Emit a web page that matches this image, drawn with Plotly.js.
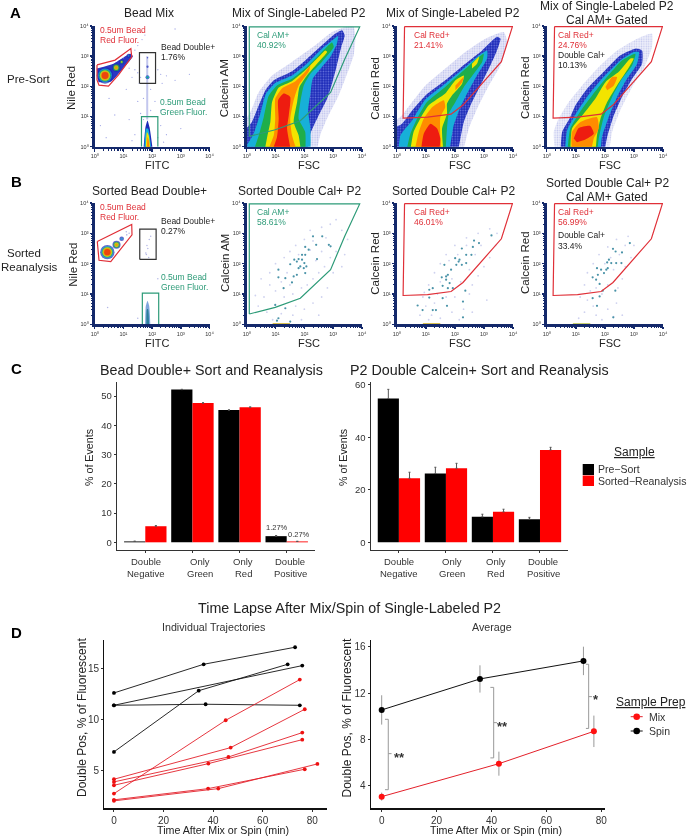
<!DOCTYPE html>
<html><head><meta charset="utf-8">
<style>html,body{margin:0;padding:0;background:#fff}#p{width:688px;height:837px;filter:blur(0.35px)}</style>
<script src="https://cdn.plot.ly/plotly-3.0.1.min.js"></script></head><body><div id="p"></div>
<script>
// ---------- flow-cytometry gates, in decades of fluorescence ----------
const gateBeadRedA=[[.08,2.71],[.71,2.87],[1.26,3.25],[1.29,2.98],[.83,2.38],[.48,2.01],[.15,2.04],[.08,2.21],[.08,2.71]];
const gateBeadRedB=[[.09,2.73],[1.29,3.29],[1.30,2.95],[.88,2.46],[.56,2.07],[.15,2.11],[.09,2.73]];
const gateDoubleA=[[1.56,2.10],[2.12,2.10],[2.12,3.12],[1.56,3.12],[1.56,2.10]];
const gateDoubleB=[[1.57,2.14],[2.14,2.14],[2.14,3.14],[1.57,3.14],[1.57,2.14]];
const gateGreenA=[[1.63,0],[1.63,1.0],[2.2,1.0],[2.2,0]];
const gateGreenB=[[1.66,0],[1.66,1.03],[2.23,1.03],[2.23,0]];
const gateCalAM=[[.09,.34],[.09,3.97],[3.92,3.97],[3.40,2.90],[2.91,1.80],[1.86,.86],[.99,.56],[.09,.34]];
const gateCalRed=[[.27,3.98],[3.98,3.98],[3.60,2.82],[3.05,2.21],[2.28,1.38],[1.87,1.08],[1.06,.98],[.22,.95],[.27,3.98]];
// ---------- density outlines ----------
const a2Haze=[[0,0],[0,.49],[.13,1.15],[.42,1.81],[.88,2.36],[1.57,2.81],[2.38,3.36],[2.96,3.80],[3.42,3.97],[3.71,3.97],[3.77,3.58],[3.71,3.03],[3.42,2.25],[3.19,1.70],[2.84,1.04],[2.55,.38],[2.40,0]];
const a2Blue=[[0,0],[0,.27],[.18,.82],[.42,1.37],[.65,1.87],[.94,2.20],[1.57,2.50],[2.03,2.86],[2.61,3.36],[3.08,3.75],[3.31,3.86],[3.40,3.69],[3.28,3.30],[3.13,2.70],[2.96,2.09],[2.79,1.59],[2.50,1.04],[2.21,.43],[2.09,0]];
const a2Cyan=[[.02,.07],[.24,.43],[.47,1.09],[.67,1.76],[.99,2.11],[1.57,2.36],[2.09,2.75],[2.61,3.25],[2.96,3.52],[3.17,3.67],[3.13,3.41],[2.90,2.97],[2.61,2.64],[2.29,2.25],[2.21,1.76],[2.13,1.20],[2.21,.60],[2.15,0],[.02,0]];
const a2Green=[[.18,0],[.42,.38],[.59,.98],[.76,1.68],[1.05,2.03],[1.57,2.25],[2.09,2.64],[2.61,3.14],[2.96,3.45],[3.02,3.30],[2.61,2.81],[2.21,2.42],[1.98,2.03],[1.86,1.48],[1.80,.93],[2.03,.49],[2.03,0]];
const a2Yellow=[[.59,0],[.71,.32],[.82,.82],[.88,1.48],[1.11,1.96],[1.57,2.17],[2.03,2.53],[2.44,2.92],[2.73,3.19],[2.79,3.14],[2.44,2.75],[2.09,2.36],[1.83,1.98],[1.75,1.48],[1.63,.82],[1.80,.38],[1.90,0]];
const a2Orange=[[.65,0],[.94,.38],[.99,.93],[.99,1.59],[1.23,1.94],[1.69,2.17],[2.03,2.48],[2.21,2.70],[2.15,2.48],[1.80,2.03],[1.63,1.54],[1.51,.93],[1.57,.38],[1.80,0]];
const a2Red=[[.82,0],[1.05,.32],[1.11,.93],[1.09,1.54],[1.28,1.76],[1.51,1.65],[1.46,1.04],[1.40,.60],[1.57,0]];
const a3Haze=[[0,0],[0,.6],[.18,1.04],[.53,1.48],[.99,2.03],[1.67,2.59],[2.36,3.14],[3.05,3.58],[3.68,3.80],[3.80,3.47],[3.57,2.70],[3.17,2.03],[2.82,1.37],[2.48,.60],[2.25,0]];
const a3Blue=[[0,0],[0,.49],[.18,.76],[.53,1.20],[.99,1.70],[1.67,2.20],[2.36,2.75],[2.94,3.19],[3.45,3.64],[3.57,3.58],[3.45,3.19],[3.17,2.59],[2.88,2.03],[2.59,1.48],[2.31,.82],[2.08,0]];
const a3Cyan=[[.05,0],[.13,.38],[.53,.87],[.99,1.57],[1.67,2.09],[2.36,2.64],[2.88,3.06],[3.11,3.19],[3.11,2.92],[2.76,2.36],[2.48,1.87],[2.19,1.31],[1.96,.71],[1.79,0]];
const a3Green=[[.30,0],[.47,.43],[.70,.93],[1.04,1.48],[1.67,1.98],[2.31,2.53],[2.82,2.97],[2.99,3.08],[2.94,2.81],[2.65,2.42],[2.31,1.98],[2.02,1.48],[1.79,1.09],[1.73,.60],[1.67,0]];
const a3Yellow=[[.44,0],[.58,.49],[.81,.93],[1.10,1.37],[1.67,1.76],[2.02,2.20],[2.31,2.36],[2.25,2.09],[1.90,1.70],[1.73,1.43],[1.73,1.09],[1.56,.60],[1.62,0]];
const a3YellowArm=[[2.59,2.75],[2.84,2.99],[2.76,2.75],[2.59,2.59]];
const a3Orange=[[.58,0],[.76,.49],[.93,.93],[1.22,1.31],[1.62,1.54],[1.67,1.31],[1.50,.98],[1.50,.38],[1.54,0]];
const a3OrangeArm=[[2.02,2.03],[2.31,2.31],[2.25,2.14],[2.02,1.87]];
const a3Red=[[.81,0],[.93,.43],[1.16,.76],[1.39,.60],[1.50,.27],[1.44,0]];
const a4Haze=[[.30,0],[.24,.49],[.41,.93],[.76,1.48],[1.22,2.03],[1.79,2.64],[2.42,3.19],[3.11,3.58],[3.62,3.75],[3.62,3.30],[3.34,2.59],[2.94,1.98],[2.53,1.20],[2.25,.49],[2.13,0]];
const a4Blue=[[.47,0],[.53,.49],[.81,.98],[.99,1.37],[1.39,1.92],[1.96,2.48],[2.53,3.03],[3.05,3.25],[3.28,3.19],[3.28,2.75],[2.94,2.25],[2.59,1.65],[2.31,1.04],[2.08,.32],[1.96,0]];
const a4Cyan=[[.62,0],[.70,.54],[1.04,1.15],[1.39,1.65],[1.90,2.25],[2.53,2.86],[2.99,3.14],[3.17,3.14],[3.11,2.75],[2.76,2.25],[2.42,1.65],[2.13,.98],[1.90,.32],[1.85,0]];
const a4Green=[[.70,0],[.81,.60],[1.22,1.26],[1.56,1.70],[2.02,2.25],[2.59,2.86],[3.05,3.08],[2.94,2.70],[2.59,2.25],[2.25,1.65],[1.96,.98],[1.79,.27],[1.73,0]];
const a4Yellow=[[.81,0],[.87,.60],[1.27,1.09],[1.67,1.59],[2.02,2.14],[2.48,2.48],[2.88,2.92],[2.99,2.92],[2.76,2.53],[2.42,2.03],[2.08,1.48],[1.85,.93],[1.73,.38],[1.67,0]];
const a4Orange=[[.87,0],[.87,.49],[1.16,.82],[1.73,.98],[1.79,.60],[1.62,.27],[1.50,0]];
const a4OrangeArm=[[2.02,1.98],[2.25,2.31],[2.42,2.31],[2.31,2.03],[2.08,1.87]];
const a4Red=[[.93,.27],[1.10,.62],[1.50,.69],[1.62,.43],[1.33,.24],[1.04,.15]];
const a1Tail=[[.07,2.59],[.65,2.75],[1.24,3.08],[1.33,3.0],[.89,2.48],[.59,2.17],[.13,2.14]];
const a1ColBlue=[[1.68,0],[1.77,.65],[1.84,.87],[1.91,.65],[2.05,0]];
const a1ColCyan=[[1.72,0],[1.79,.6],[1.86,.6],[2.0,0]];
const a1ColYellow=[[1.77,0],[1.82,.49],[1.88,.38],[1.96,0]];
const a1ColOrange=[[1.82,0],[1.84,.32],[1.88,.21],[1.92,0]];
const a1Streak=[[1.83,.9],[1.84,2.0],[1.83,3.0]];
const b1ColBlue=[[1.75,0],[1.78,.6],[1.84,.78],[1.90,.6],[1.95,0]];
const b1ColGreen=[[1.8,0],[1.82,.5],[1.86,.5],[1.9,0]];
// bead populations: centre x, centre y, radius (decades), density level
const a1Blobs=[[.36,2.36,.29,0],[.36,2.36,.24,1],[.36,2.36,.21,2],[.36,2.36,.18,3],[.36,2.36,.15,4],[.36,2.36,.12,5],
 [.75,2.62,.15,0],[.75,2.62,.12,2],[.75,2.62,.08,3],[.75,2.62,.05,4],[.94,2.81,.09,0],[.94,2.81,.06,2],[.94,2.81,.03,3],[1.18,3.01,.07,0],[1.18,3.01,.03,1],
 [1.84,2.3,.07,0],[1.84,2.3,.05,1],[1.84,2.3,.03,2],[1.84,2.65,.04,0],[1.84,2.95,.025,0]];
const b1Blobs=[[.44,2.38,.25,0],[.44,2.38,.21,1],[.44,2.38,.19,2],[.44,2.38,.17,3],[.44,2.38,.14,4],[.44,2.38,.11,5],
 [.76,2.62,.14,0],[.76,2.62,.11,2],[.76,2.62,.08,3],[.76,2.62,.05,4],[.94,2.82,.08,0],[.94,2.82,.04,1],[1.12,2.95,.02,0]];
const a1Specks=[[1.0,2.95],[1.5,3.35],[1.65,3.55],[1.4,3.2],[1.75,3.7],[1.2,2.6],[1.4,2.55],[1.5,2.45],[1.6,2.3],[2.3,2.4],[2.5,2.35],[2.8,2.2],[2.2,2.55],[2.35,2.1],[1.3,2.3],[1.55,2.1],[1.1,1.9],[2.1,1.5],[2.3,1.2],[1.2,.9],[1.4,.4],[.4,.3],[.7,1.05],[2.3,.7],[2.5,.4],[3.0,.6],[3.1,1.1],[2.8,3.9],[2.2,.3],[1.5,1.5],[1.6,1.1],[1.3,.2],[2.4,.15],[.2,.7],[.5,1.6],[3.3,2.4],[2.0,1.0],[1.7,.9],[1.95,1.2],[1.7,1.6],[1.95,1.9]];
const b1Specks=[[1.8,2.3],[1.85,2.5],[1.9,2.8],[1.82,2.6],[1.95,2.9],[1.78,2.35],[1.88,2.2],[.45,.55],[2.2,1.5],[1.5,.2],[1.2,3.0],[1.1,3.05]];
const b2Points=[[2.30,2.90],[2.62,2.90],[2.41,2.62],[2.03,2.55],[2.15,2.46],[1.92,2.29],[2.03,2.29],[1.80,2.15],[1.74,2.07],[1.92,2.13],[2.00,2.02],[1.86,1.91],[1.98,1.85],[2.07,1.91],[2.44,2.15],[1.51,1.98],[1.10,1.80],[1.63,1.58],[1.74,1.63],[1.57,1.38],[1.34,1.52],[1.10,1.55],[.99,.64],[1.34,.53],[1.10,.2],[1.05,.12],[1.51,.09],[2.91,2.57],[2.03,1.69],[1.28,1.19],[2.85,2.62],[1.80,1.85],[1.65,2.13]];
const b3Points=[[3.26,2.93],[2.66,2.76],[2.83,2.68],[2.62,2.55],[2.24,2.50],[2.39,2.29],[2.57,2.29],[2.01,2.18],[2.13,2.07],[2.05,1.96],[1.64,1.96],[2.24,1.96],[2.39,2.02],[1.87,1.80],[1.76,1.63],[1.70,1.58],[1.55,1.55],[1.70,1.47],[1.82,1.36],[1.24,1.19],[1.12,1.14],[1.58,1.27],[1.93,1.19],[2.36,1.11],[1.12,.88],[1.58,.86],[.72,.62],[.89,.47],[1.35,.47],[1.24,.47],[1.73,.61],[2.28,.75],[2.28,.23],[1.76,1.19],[2.16,2.13]];
const b4Points=[[2.86,2.68],[2.59,2.37],[2.37,2.40],[2.28,2.49],[2.14,2.13],[2.22,2.02],[2.08,2.04],[1.73,1.85],[2.10,1.85],[2.39,2.02],[2.57,2.02],[1.97,1.69],[1.76,1.63],[1.58,1.55],[1.70,1.47],[1.82,1.33],[1.93,1.11],[1.58,.86],[1.82,.92],[1.73,.61],[2.36,1.11],[2.29,.23],[1.87,1.80],[2.05,1.80]];
const b2Pale=[[.5,1.5],[.8,1.7],[1.0,2.0],[1.3,2.2],[1.5,2.4],[1.7,2.6],[2.0,2.8],[2.2,3.1],[2.6,3.2],[2.9,3.3],[3.1,3.45],[3.3,3.1],[3.5,2.8],[3.4,2.3],[3.1,2.4],[2.9,2.2],[2.7,1.9],[2.5,1.7],[2.3,1.5],[2.1,1.3],[1.9,1.2],[1.6,1.0],[1.3,.9],[1.0,1.1],[.8,1.3],[.6,.9],[.4,.6],[.7,.4],[1.2,.35],[1.7,.6],[2.0,.5],[2.3,.7],[2.6,.9],[2.8,1.2],[1.4,1.7],[1.2,1.4],[2.4,2.1],[2.6,2.4],[1.6,.3],[.9,.15],[1.9,.15],[2.5,.3],[3.0,1.7],[3.3,1.9],[1.8,2.3],[2.2,2.45],[2.3,2.75],[1.5,1.3],[.3,.95],[2.75,2.85]];
const b3Pale=[[.9,.9],[1.1,1.3],[1.3,1.7],[1.5,2.0],[1.7,2.3],[2.0,2.6],[2.4,2.85],[2.8,3.0],[3.2,3.15],[3.4,2.6],[3.2,2.2],[3.0,1.9],[2.8,1.6],[2.6,1.3],[2.5,1.0],[2.3,.5],[1.9,.4],[1.5,.2],[1.1,.15],[.8,.3],[1.4,1.0],[1.7,.9],[2.0,.9],[2.2,1.4],[2.5,1.8],[2.7,2.3],[2.9,2.6],[1.9,1.5],[1.5,1.4],[1.3,.7],[2.6,.4],[3.1,.8],[1.0,.6],[2.1,2.3],[1.8,2.1],[2.4,2.6],[2.15,.15],[.95,1.05],[3.45,3.0],[1.2,.3]];
const b4Pale=[[1.15,.9],[1.3,1.3],[1.4,1.7],[1.6,2.0],[1.8,2.3],[2.1,2.55],[2.4,2.8],[2.8,2.9],[3.0,2.6],[2.9,2.2],[2.7,1.9],[2.6,1.5],[2.45,1.2],[2.4,.7],[2.1,.5],[1.7,.3],[1.3,.4],[1.5,1.1],[1.9,1.0],[2.1,1.3],[2.3,1.8],[2.5,2.3],[1.7,1.2],[1.4,.8],[2.6,.3],[1.1,.2],[1.9,.15],[2.2,2.2],[2.0,2.0],[1.6,.6],[2.3,.25],[2.7,2.6]];
const bottomStrip=[[.9,.02],[1.5,.02]];
// ---------- panel C ----------
const barCategoriesTop=["Double","Only","Only","Double"];
const barCategoriesBottom=["Negative","Green","Red","Positive"];
const beadPre=[0.3,52.2,45.2,2.1];
const beadSorted=[5.5,47.6,46.2,0.3];
const beadPreErr=[0.1,0.1,0.05,0.2];
const beadSortedErr=[0.2,0.1,0.05,0.05];
const p2Pre=[54.8,26.2,9.7,8.8];
const p2Sorted=[24.4,28.2,11.6,35.2];
const p2PreErr=[3.5,2.4,1.0,0.7];
const p2SortedErr=[2.3,1.9,1.0,1.0];
// ---------- panel D ----------
const spinTraj=[
 {t:[0,36.2,73.1],v:[12.58,15.39,17.06]},
 {t:[0,76],v:[11.37,15.26]},
 {t:[0,34.2,70.1],v:[6.8,12.8,15.39]},
 {t:[0,37,75],v:[11.37,11.47,11.37]}];
const mixTraj=[
 {t:[0,45.1,75],v:[2.71,9.9,13.89]},
 {t:[0,47.1,77],v:[4.12,7.22,10.98]},
 {t:[0,46.2,76],v:[3.86,6.3,8.69]},
 {t:[0,38.1,76],v:[3.53,5.65,8.0]},
 {t:[0,38,77],v:[2.1,3.2,5.1]},
 {t:[0,42.1,82.1],v:[2.0,3.2,5.62]}];
const spinAvgT=[0,35.8,73.5], spinAvg=[10.55,13.23,14.79], spinAvgErr=[1.27,1.18,1.23];
const mixAvgT=[0,42.7,77.3], mixAvg=[3.05,5.9,8.7], mixAvgErr=[0.35,1.04,1.36];
const brackets=[
 {x:[1.2,2.4,2.4,1.2],y:[9.74,9.74,3.65,3.65],mx:[2.4,3.6],my:[6.77,6.77]},
 {x:[39.6,40.8,40.8,39.6],y:[12.5,12.5,6.4,6.4],mx:[40.8,42],my:[9.45,9.45]},
 {x:[74.4,75.4,75.4,74.4],y:[14.5,14.5,8.95,8.95],mx:[75.4,76.6],my:[11.7,11.7]}];

// ---------- colours ----------
const LEVELS=['#1c2bb8','#17b0d8','#1fae4a','#f2e400','#ff8c00','#ee1c10'];
const NAVY='#14296b',RED='#e03038',GREEN='#2d9b78',INK='#333333';
const W=688,H=837;
let traces=[],annotations=[],shapes=[],layout={};
const dec=p=>Math.pow(10,p);
const decEdge=p=>p===0?Math.pow(10,-.3):Math.pow(10,p);   // outlines running off the axis continue past it

function axisPair(i,l,r,t,b,xo,yo){
  const s=i===1?'':i;
  layout['xaxis'+s]=Object.assign({domain:[l/W,r/W],anchor:'y'+s,showgrid:false,zeroline:false,fixedrange:true},xo);
  layout['yaxis'+s]=Object.assign({domain:[1-b/H,1-t/H],anchor:'x'+s,showgrid:false,zeroline:false,fixedrange:true},yo);
}
const logMinor=[];[1,10,100,1000].forEach(d=>{for(const k of [2,3,4,5,6,7,8,9])logMinor.push(k*d)});
const logAxis=()=>({type:'log',range:[0,4],tickmode:'array',tickvals:[1,10,100,1000,10000],
  ticktext:['10⁰','10¹','10²','10³','10⁴'],
  tickfont:{size:5.5,color:INK,family:'Liberation Sans'},ticks:'outside',ticklen:2.5,tickwidth:1.5,tickcolor:NAVY,
  showline:true,linecolor:NAVY,linewidth:2.5,
  minor:{tickmode:'array',tickvals:logMinor,ticks:'outside',ticklen:1.5,tickwidth:1,tickcolor:NAVY}});
function xy(i){const s=i===1?'':i;return {xaxis:'x'+s,yaxis:'y'+s,hoverinfo:'skip',showlegend:false};}
function poly(i,pts,color,pattern,psize){
  const t=Object.assign(xy(i),{type:'scatter',mode:'lines',x:pts.map(p=>decEdge(p[0])),y:pts.map(p=>decEdge(p[1])),
    fill:'toself',fillcolor:color,line:{width:0,color:color,shape:'spline',smoothing:.5}});
  if(pattern){t.fillcolor='rgba(0,0,0,0)';t.fillpattern={shape:'.',fgcolor:color,bgcolor:pattern,size:psize||3,solidity:.3,fillmode:'replace'};}
  traces.push(t);
}
function gate(i,pts,color,w){
  traces.push(Object.assign(xy(i),{type:'scatter',mode:'lines',x:pts.map(p=>dec(p[0])),y:pts.map(p=>dec(p[1])),line:{color:color,width:w||1.2}}));
}
function dots(i,pts,color,size){
  traces.push(Object.assign(xy(i),{type:'scatter',mode:'markers',x:pts.map(p=>dec(p[0])),y:pts.map(p=>dec(p[1])),marker:{color:color,size:size,line:{width:0}}}));
}
function blobs(i,list,pxPerDecade){
  traces.push(Object.assign(xy(i),{type:'scatter',mode:'markers',x:list.map(b=>dec(b[0])),y:list.map(b=>dec(b[1])),
    marker:{size:list.map(b=>b[2]*2*pxPerDecade),color:list.map(b=>LEVELS[b[3]]),line:{width:0}}}));
}
function txt(x,y,text,o){
  o=o||{};
  annotations.push({xref:'paper',yref:'paper',x:x/W,y:1-y/H,text:text,showarrow:false,xanchor:o.a||'center',yanchor:'middle',
    textangle:o.r||0,borderpad:0,font:{family:'Liberation Sans',size:o.s||12,color:o.c||'#222222',weight:o.b?700:400}});
}
function levels(i,arr){arr.forEach(a=>a[2]?poly(i,a[0],a[1],a[2],2.6):poly(i,a[0],a[1]));}
const BLUE_DOTS=['#6672dc',LEVELS[0]];

// ---------- flow panels ----------
const TOP_A=26,BOT_A=146.7,TOP_B=203,BOT_B=324.3;
const COLS=[[94.7,209.5],[246.7,362],[396.7,513],[546.7,663]];
[0,1].forEach(row=>COLS.forEach((c,j)=>{
  axisPair(row*4+j+1,c[0],c[1],row?TOP_B:TOP_A,row?BOT_B:BOT_A,logAxis(),logAxis());
}));
// A1
gate(1,a1Streak,'#c3c7ee',2);
poly(1,a1Tail,'#2a38c4');
dots(1,a1Specks,'#a3a9e6',1.3);
blobs(1,a1Blobs,28.7);
levels(1,[[a1ColBlue,LEVELS[0]],[a1ColCyan,LEVELS[1]],[a1ColYellow,LEVELS[3]],[a1ColOrange,LEVELS[4]]]);
gate(1,gateBeadRedA,RED);gate(1,gateDoubleA,'#333');gate(1,gateGreenA,GREEN);
// A2
poly(2,a2Haze,'#bcc0ec','#e9eaf9',2.4);
levels(2,[[a2Blue,BLUE_DOTS[0],BLUE_DOTS[1]],[a2Cyan,LEVELS[1]],[a2Green,LEVELS[2]],[a2Yellow,LEVELS[3]],[a2Orange,LEVELS[4]],[a2Red,LEVELS[5]]]);
gate(2,gateCalAM,GREEN);
// A3
poly(3,a3Haze,'#bcc0ec','#e9eaf9',2.4);
levels(3,[[a3Blue,BLUE_DOTS[0],BLUE_DOTS[1]],[a3Cyan,LEVELS[1]],[a3Green,LEVELS[2]],[a3Yellow,LEVELS[3]],[a3YellowArm,LEVELS[3]],[a3Orange,LEVELS[4]],[a3OrangeArm,LEVELS[4]],[a3Red,LEVELS[5]]]);
gate(3,gateCalRed,RED);
// A4
poly(4,a4Haze,'#c4c8ee','#eff0fb',2.4);
levels(4,[[a4Blue,BLUE_DOTS[0],BLUE_DOTS[1]],[a4Cyan,LEVELS[1]],[a4Green,LEVELS[2]],[a4Yellow,LEVELS[3]],[a4Orange,LEVELS[4]],[a4OrangeArm,LEVELS[4]],[a4Red,LEVELS[5]]]);
gate(4,gateCalRed,RED);
// B1
dots(5,b1Specks,'#b4b8e6',1.5);
blobs(5,b1Blobs,28.7);
levels(5,[[b1ColBlue,'#7fa6dc'],[b1ColGreen,'#2a7f9a']]);
gate(5,gateBeadRedB,RED);gate(5,gateDoubleB,'#333');gate(5,gateGreenB,GREEN);
// B2-B4
gate(6,bottomStrip,'#d8c050',1.5);dots(6,b2Pale,'#cfd2ef',1.8);dots(6,b2Points,'#4a93a8',2.2);gate(6,gateCalAM,GREEN);
gate(7,bottomStrip,'#d8c050',1.5);dots(7,b3Pale,'#cfd2ef',1.8);dots(7,b3Points,'#4a93a8',2.2);gate(7,gateCalRed,RED);
gate(8,bottomStrip,'#c8d070',1.5);dots(8,b4Pale,'#cfd2ef',1.8);dots(8,b4Points,'#4a93a8',2.2);gate(8,gateCalRed,RED);

// ---------- bars ----------
const catIdx=[0,1,2,3];
const barX=o=>({range:[-.6,3.6],tickmode:'array',tickvals:catIdx,showticklabels:false,ticks:'outside',ticklen:2,tickcolor:INK,showline:true,linecolor:INK,linewidth:1.2});
const barY=(r,v)=>({range:r,tickmode:'array',tickvals:v,tickfont:{size:9.5,color:INK,family:'Liberation Sans'},ticks:'outside',ticklen:2,tickcolor:INK,showline:true,linecolor:INK,linewidth:1.2});
axisPair(9,117,315,382,550,barX(),barY([-2.63,54.8],[0,10,20,30,40,50]));
axisPair(10,370.7,568.2,382,550,barX(),barY([-2.94,61.1],[0,20,40,60]));
function bars(i,v,err,color){
  traces.push(Object.assign(xy(i),{type:'bar',x:catIdx,y:v,marker:{color:color,line:{width:0}},
    error_y:{type:'data',symmetric:false,array:err,arrayminus:catIdx.map(()=>0),color:'#555',thickness:1,width:1}}));
}
bars(9,beadPre,beadPreErr,'#000000');bars(9,beadSorted,beadSortedErr,'#ff0000');
bars(10,p2Pre,p2PreErr,'#000000');bars(10,p2Sorted,p2SortedErr,'#ff0000');
layout.barmode='group';layout.bargap=.1;layout.bargroupgap=0;

// ---------- lines ----------
const lineX=(r,v)=>({range:r,tickmode:'array',tickvals:v,tickfont:{size:10,color:INK,family:'Liberation Sans'},ticks:'outside',ticklen:2,tickcolor:INK,showline:true,linecolor:'#111',linewidth:1.2});
axisPair(11,104.3,327.3,640,808.3,lineX([-3.9,86.1],[0,20,40,60,80]),lineX([1.27,17.77],[5,10,15]));
axisPair(12,370.7,605,640,808.3,lineX([-4,81.35],[0,20,40,60,80]),lineX([2.04,16.6],[4,8,12,16]));
spinTraj.forEach(s=>traces.push(Object.assign(xy(11),{type:'scatter',mode:'lines+markers',x:s.t,y:s.v,line:{color:'#111',width:.9},marker:{color:'#000',size:3.8}})));
mixTraj.forEach(s=>traces.push(Object.assign(xy(11),{type:'scatter',mode:'lines+markers',x:s.t,y:s.v,line:{color:'#e3202a',width:.9},marker:{color:'#ee1111',size:3.8}})));
brackets.forEach(b=>{
  traces.push(Object.assign(xy(12),{type:'scatter',mode:'lines',x:b.x,y:b.y,line:{color:'#999',width:1}}));
  traces.push(Object.assign(xy(12),{type:'scatter',mode:'lines',x:b.mx,y:b.my,line:{color:'#999',width:1}}));
});
function avg(t,v,e,lc,mc){
  traces.push(Object.assign(xy(12),{type:'scatter',mode:'lines+markers',x:t,y:v,line:{color:lc,width:1},marker:{color:mc,size:6},
    error_y:{type:'data',array:e,color:'#999',thickness:1,width:0}}));
}
avg(spinAvgT,spinAvg,spinAvgErr,'#111','#000');
avg(mixAvgT,mixAvg,mixAvgErr,'#e3202a','#ff1010');

// ---------- text ----------
txt(15,12.7,'A',{s:15,b:1,c:'#000'});txt(16,181.7,'B',{s:15,b:1,c:'#000'});txt(16,368,'C',{s:15,b:1,c:'#000'});txt(16,632.7,'D',{s:15,b:1,c:'#000'});
txt(29,79,'Pre-Sort',{s:11.5});txt(24.3,252.7,'Sorted',{s:11.5});txt(29,267,'Reanalysis',{s:11.5});
txt(149.3,12.7,'Bead Mix');txt(299,12.7,'Mix of Single-Labeled P2');txt(453.3,12.7,'Mix of Single-Labeled P2');
txt(607.3,5.5,'Mix of Single-Labeled P2');txt(607.3,20,'Cal AM+ Gated');
txt(149,191,'Sorted Bead Double+');txt(299.5,191,'Sorted Double Cal+ P2');txt(453.7,191,'Sorted Double Cal+ P2');
txt(607,182.7,'Sorted Double Cal+ P2');txt(607,197,'Cal AM+ Gated');
// axis titles
[165,342.5].forEach(y=>{txt(156.7,y,'FITC',{s:11});txt(308.7,y,'FSC',{s:11});txt(459.7,y,'FSC',{s:11});txt(609.7,y,'FSC',{s:11});});
txt(71.7,88.3,'Nile Red',{s:11.5,r:-90});txt(72.7,265,'Nile Red',{s:11.5,r:-90});
txt(224.3,88,'Calcein AM',{s:11.5,r:-90});txt(224.3,262.7,'Calcein AM',{s:11.5,r:-90});
txt(374.7,88,'Calcein Red',{s:11.5,r:-90});txt(525,88,'Calcein Red',{s:11.5,r:-90});
txt(374.7,263,'Calcein Red',{s:11.5,r:-90});txt(525,263,'Calcein Red',{s:11.5,r:-90});
// gate labels
const L={a:'left',s:8.5};
const tl=(x,y,t,c)=>txt(x,y,t,Object.assign({c:c},L));
tl(99,30,'0.5um Bead',RED);tl(99,40,'Red Fluor.',RED);tl(160.3,47,'Bead Double+','#222');tl(160.3,57.3,'1.76%','#222');
tl(158.7,101.7,'0.5um Bead',GREEN);tl(158.7,112,'Green Fluor.',GREEN);
tl(255.7,35.3,'Cal AM+',GREEN);tl(255.7,45.3,'40.92%',GREEN);
tl(412.7,35.3,'Cal Red+',RED);tl(412.7,45.3,'21.41%',RED);
tl(556.7,35.3,'Cal Red+',RED);tl(556.7,45.3,'24.76%',RED);tl(556.7,55,'Double Cal+','#222');tl(556.7,65,'10.13%','#222');
tl(99,207.3,'0.5um Bead',RED);tl(99,217,'Red Fluor.',RED);tl(160.3,221,'Bead Double+','#222');tl(160.3,231.3,'0.27%','#222');
tl(160,276.7,'0.5um Bead',GREEN);tl(160,286.7,'Green Fluor.',GREEN);
tl(255.7,212.3,'Cal AM+',GREEN);tl(255.7,222.3,'58.61%',GREEN);
tl(412.7,212.3,'Cal Red+',RED);tl(412.7,222.3,'46.01%',RED);
tl(556.7,212.3,'Cal Red+',RED);tl(556.7,222.3,'56.99%',RED);tl(556.7,235.3,'Double Cal+','#222');tl(556.7,245.7,'33.4%','#222');
// panel C text
txt(211,370,'Bead Double+ Sort and Reanalysis',{s:14.3});txt(479.5,370,'P2 Double Calcein+ Sort and Reanalysis',{s:14.3});
txt(89,458,'% of Events',{s:10.7,r:-90});txt(343,458,'% of Events',{s:10.7,r:-90});
const beadLabelX=[146,200,243,290],p2LabelX=[399,452.3,495.7,543.3];
[beadLabelX,p2LabelX].forEach(xs=>xs.forEach((x,k)=>{txt(x,561.5,barCategoriesTop[k],{s:9.5,c:INK});txt(x,573,barCategoriesBottom[k],{s:9.5,c:INK});}));
txt(276.7,527.7,'1.27%',{s:7.5,c:INK});txt(299,534.3,'0.27%',{s:7.5,c:INK});
txt(634.8,451.7,'<u>Sample</u>',{s:12,c:'#222'});
txt(597,469,'Pre−Sort',{s:10.5,a:'left',c:INK});txt(597,480.5,'Sorted−Reanalysis',{s:10.5,a:'left',c:INK});
const rect=(x0,y0,x1,y1,col)=>shapes.push({type:'rect',xref:'paper',yref:'paper',x0:x0/W,x1:x1/W,y0:1-y0/H,y1:1-y1/H,fillcolor:col,line:{width:0}});
rect(582.7,464,594,475,'#000');rect(582.7,475.5,594,486,'#ff0000');
// panel D text
txt(349,608,'Time Lapse After Mix/Spin of Single-Labeled P2',{s:14.3});
txt(213,626.7,'Individual Trajectories',{s:10.7,c:'#333'});txt(491.7,626.7,'Average',{s:10.7,c:'#333'});
txt(82,718,'Double Pos, % of Fluorescent',{s:12,r:-90});txt(346.5,718,'Double Pos, % of Fluorescent',{s:12,r:-90});
txt(223,830,'Time After Mix or Spin (min)',{s:10.7});txt(495.7,830,'Time After Mix or Spin (min)',{s:10.7});
txt(399,757,'**',{s:13,b:1,c:'#333'});txt(502.5,726,'**',{s:13,b:1,c:'#333'});txt(595.7,699,'*',{s:13,b:1,c:'#333'});
txt(650.5,701.7,'<u>Sample Prep</u>',{s:12,c:'#222'});
txt(648,716.7,'Mix',{s:10.5,a:'left',c:INK});txt(648,731,'Spin',{s:10.5,a:'left',c:INK});
const legendMark=(y,lc,mc)=>{
  shapes.push({type:'line',xref:'paper',yref:'paper',x0:630.7/W,x1:642.7/W,y0:1-y/H,y1:1-y/H,line:{color:lc,width:1}});
  shapes.push({type:'circle',xref:'paper',yref:'paper',x0:633.4/W,x1:640/W,y0:1-(y-3.3)/H,y1:1-(y+3.3)/H,fillcolor:mc,line:{width:0}});
};
legendMark(716.7,'#e3202a','#ff1010');legendMark(731,'#111','#000');

Object.assign(layout,{width:W,height:H,margin:{l:0,r:0,t:0,b:0},paper_bgcolor:'#fff',plot_bgcolor:'#fff',showlegend:false,
  font:{family:'Liberation Sans',color:INK},annotations:annotations,shapes:shapes,hovermode:false});
Plotly.newPlot('p',traces,layout,{staticPlot:true,displayModeBar:false});
</script></body></html>
